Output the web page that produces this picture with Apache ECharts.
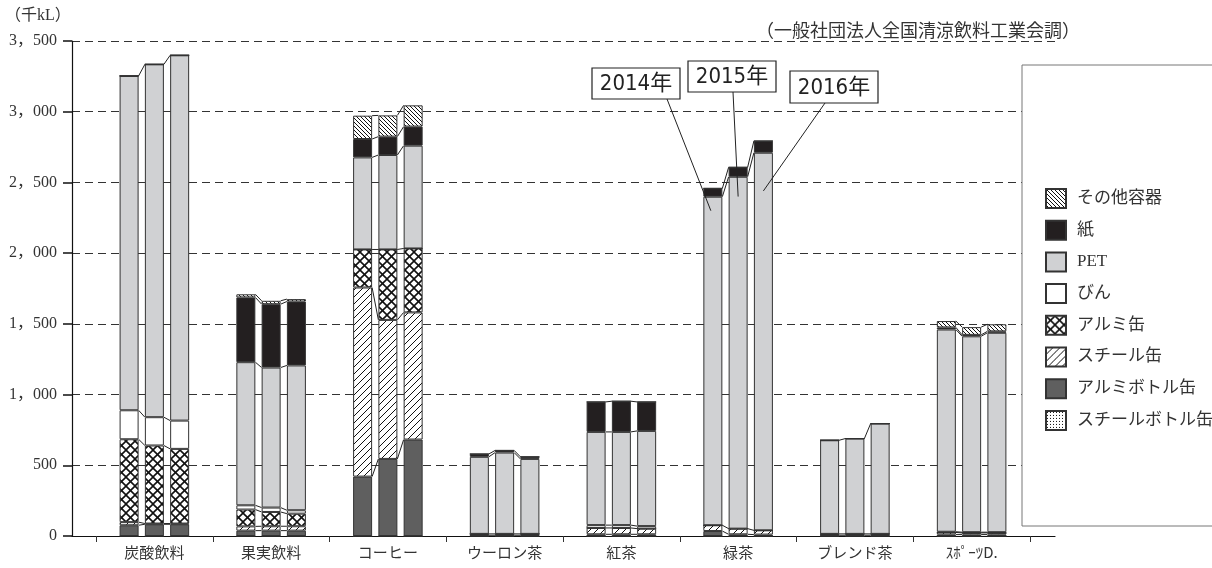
<!DOCTYPE html>
<html><head><meta charset="utf-8">
<script src="https://cdn.jsdelivr.net/npm/echarts@6/dist/echarts.min.js"></script>
<style>html,body{margin:0;padding:0;background:#fff}#c{width:1212px;height:568px}</style>
</head><body><div id="c"></div>
<script>
// ---------- data ----------
const categories = ['炭酸飲料','果実飲料','コーヒー','ウーロン茶','紅茶','緑茶','ブレンド茶','ｽﾎﾟｰﾂD.'];
const years = ['2014年','2015年','2016年'];
// stack order: bottom -> top
const materials = ['スチールボトル缶','アルミボトル缶','スチール缶','アルミ缶','びん','PET','紙','その他容器'];
const legendOrder = ['その他容器','紙','PET','びん','アルミ缶','スチール缶','アルミボトル缶','スチールボトル缶'];
const yTicks = [0,500,1000,1500,2000,2500,3000,3500];
// each: [2014], [2015], [2016]  (千kL, per category)
const steelBottle = [
  [0,0,0,0,0,0,0,0],
  [0,0,0,0,0,0,0,0],
  [0,0,0,0,0,0,0,0]];
const alBottle = [
  [76,38,420,5,12,35,5,10],
  [83,38,545,5,12,12,5,10],
  [83,38,682,5,12,10,5,10]];
const steelCan = [
  [22,30,1337,10,45,41,10,15],
  [5,31,983,10,45,40,10,12],
  [5,31,899,10,40,30,10,12]];
const alCan = [
  [586,119,269,0,0,0,0,0],
  [552,101,498,0,0,0,0,0],
  [528,89,452,0,0,0,0,0]];
const bottle = [
  [205,30,0,0,20,0,0,5],
  [200,31,0,0,20,0,0,5],
  [200,24,0,0,18,0,0,5]];
const pet = [
  [2364,1012,651,545,659,2323,662,1430],
  [2495,990,668,575,659,2488,674,1385],
  [2583,1024,727,530,673,2670,780,1410]];
const paper = [
  [0,458,130,20,212,59,0,15],
  [0,448,130,15,217,67,0,10],
  [0,452,135,15,205,83,0,10]];
const other = [
  [0,22,165,0,0,0,0,45],
  [0,24,150,0,0,0,0,55],
  [0,17,150,0,0,0,0,50]];
const matData = [steelBottle, alBottle, steelCan, alCan, bottle, pet, paper, other];

// ---------- styles ----------
function makePattern(kind){
  const s = {cross:9, slash:7, back:4, dots:3}[kind];
  const c = document.createElement('canvas'); c.width = s; c.height = s;
  const g = c.getContext('2d');
  g.fillStyle = '#fff'; g.fillRect(0,0,s,s);
  g.strokeStyle = '#111'; g.fillStyle = '#111';
  if (kind === 'dots') { g.fillRect(1,1,1,1); }
  else {
    g.lineWidth = kind === 'cross' ? 1.6 : 1;
    for (let k=-1;k<=1;k++){
      if (kind === 'cross' || kind === 'back') { g.beginPath(); g.moveTo(k*s,0); g.lineTo(k*s+s,s); g.stroke(); }
      if (kind === 'cross' || kind === 'slash') { g.beginPath(); g.moveTo(k*s,s); g.lineTo(k*s+s,0); g.stroke(); }
    }
  }
  return {image: c, repeat: 'repeat'};
}
const fills = {
  'スチールボトル缶': makePattern('dots'),
  'アルミボトル缶': '#5f5f5f',
  'スチール缶': makePattern('slash'),
  'アルミ缶': makePattern('cross'),
  'びん': '#ffffff',
  'PET': '#d0d1d3',
  '紙': '#231f20',
  'その他容器': makePattern('back')
};
const BAR_W = 19, GAP = 0.33;
const serif = "'Liberation Serif', 'Noto Sans CJK JP'";
const jp = "'Noto Sans CJK JP'";

const series = [];
years.forEach((yr, j) => {
  materials.forEach((m, k) => {
    series.push({
      name: m, type: 'bar', stack: yr, xAxisIndex: 1, yAxisIndex: 1,
      barWidth: BAR_W, barGap: (GAP*100)+'%',
      itemStyle: {color: fills[m], borderColor: '#333', borderWidth: 1},
      emphasis: {disabled: true},
      data: matData[k][j]
    });
  });
});
series.push({
  type: 'custom', xAxisIndex: 1, yAxisIndex: 1, silent: true, z: 5,
  data: categories.map((c, i) => [i, 0]),
  encode: {x: 0, y: 1},
  renderItem: function(params, api){
    const ci = params.dataIndex;
    const cx = api.coord([ci, 0])[0];
    const pitch = BAR_W * (1 + GAP);
    const centers = [cx - pitch, cx, cx + pitch];
    const children = [];
    for (let j=0;j<2;j++){
      let c1 = 0, c2 = 0;
      for (let m=0;m<matData.length;m++){
        const v1 = matData[m][j][ci], v2 = matData[m][j+1][ci];
        c1 += v1; c2 += v2;
        if (v1 === 0 && v2 === 0) continue;
        const y1 = api.coord([ci, c1])[1], y2 = api.coord([ci, c2])[1];
        children.push({type:'line', shape:{x1: centers[j]+BAR_W/2, y1: y1, x2: centers[j+1]-BAR_W/2, y2: y2},
          style:{stroke:'#222', lineWidth:1}});
      }
    }
    return {type:'group', children: children};
  }
});

function fmt(v){ return v >= 1000 ? Math.floor(v/1000) + '，' + String(v%1000).padStart(3,'0') : String(v); }

const option = {
  animation: false,
  backgroundColor: '#fff',
  grid: [
    {left: 72, right: 157, top: 41, bottom: 32, containLabel: false},
    {left: 96, right: 182, top: 41, bottom: 32, containLabel: false}
  ],
  xAxis: [
    {type:'value', gridIndex:0, min:0, max:1, axisLine:{show:true, lineStyle:{color:'#111', width:1.2}},
     axisTick:{show:false}, axisLabel:{show:false}, splitLine:{show:false}},
    {type:'category', gridIndex:1, data: categories, axisLine:{show:false},
     axisTick:{show:true, length:6, lineStyle:{color:'#333'}},
     axisLabel:{color:'#333', fontSize:15, fontFamily: jp, margin: 9}}
  ],
  yAxis: [
    {type:'value', gridIndex:0, min:0, max:3500, interval:500,
     axisLine:{show:true, lineStyle:{color:'#111', width:1.2}},
     axisTick:{show:true, inside:false, length:9, lineStyle:{color:'#111', width:1.5}},
     axisLabel:{color:'#333', fontSize:16, fontFamily: serif, margin: 15, formatter: fmt},
     splitLine:{show:true, lineStyle:{color:'#333', type:[8,5], width:1}}},
    {type:'value', gridIndex:1, min:0, max:3500, interval:500, show:false}
  ],
  legend: {
    data: legendOrder.map(n => ({name: n, icon: 'rect'})), orient:'vertical', left: 1040, top: 183, z: 20,
    itemWidth: 20, itemHeight: 19, itemGap: 10.7, selectedMode: false,
    textStyle: {color:'#333', fontSize:17, fontFamily: serif, padding:[0,0,0,6]}
  },
  series: series
};

const chart = echarts.init(document.getElementById('c'), null, {renderer:'canvas'});
chart.setOption(option);

// annotations (callouts for years, pointing to 緑茶 bars)
const gi = categories.indexOf('緑茶');
const pitch = BAR_W * (1 + GAP);
function barPt(j, v){
  const p = chart.convertToPixel({xAxisIndex:1, yAxisIndex:1}, [gi, v]);
  return [p[0] + (j-1)*pitch, p[1]];
}
const boxes = [
  {x:592, y:68, w:88, h:31, lx:667, tv:2300, dx:-2},
  {x:688, y:61, w:88, h:31, lx:733, tv:2400, dx:0},
  {x:790, y:71, w:88, h:32, lx:825, tv:2440, dx:0}
];
const graphics = [
  {type:'rect', z:10, shape:{x:1022, y:65, width:220, height:461}, style:{fill:'#fff', stroke:'#777', lineWidth:1}},
  {type:'text', z:10, left:5, top:8, style:{text:'（千kL）', fontSize:16, fontFamily: serif, fill:'#333'}},
  {type:'text', z:10, style:{x:918, y:30, text:'（一般社団法人全国清涼飲料工業会調）', fontSize:18, fontFamily: jp, fill:'#333', align:'center', verticalAlign:'middle'}}
];
boxes.forEach((b, j) => {
  const p = barPt(j, b.tv);
  graphics.push({type:'line', z:12, shape:{x1:b.lx, y1:b.y+b.h, x2:p[0]+b.dx, y2:p[1]}, style:{stroke:'#222', lineWidth:1}});
  graphics.push({type:'rect', z:12, shape:{x:b.x, y:b.y, width:b.w, height:b.h}, style:{fill:'#fff', stroke:'#222', lineWidth:1.2}});
  graphics.push({type:'text', z:13, style:{x:b.x+b.w/2, y:b.y+b.h/2+1, text: years[j], align:'center', verticalAlign:'middle',
    fontSize:22, fontFamily:"'Liberation Sans Narrow', 'DejaVu Sans Condensed', 'Noto Sans CJK JP'", fill:'#222'}});
});
chart.setOption({graphic: graphics});
</script>
</body></html>
